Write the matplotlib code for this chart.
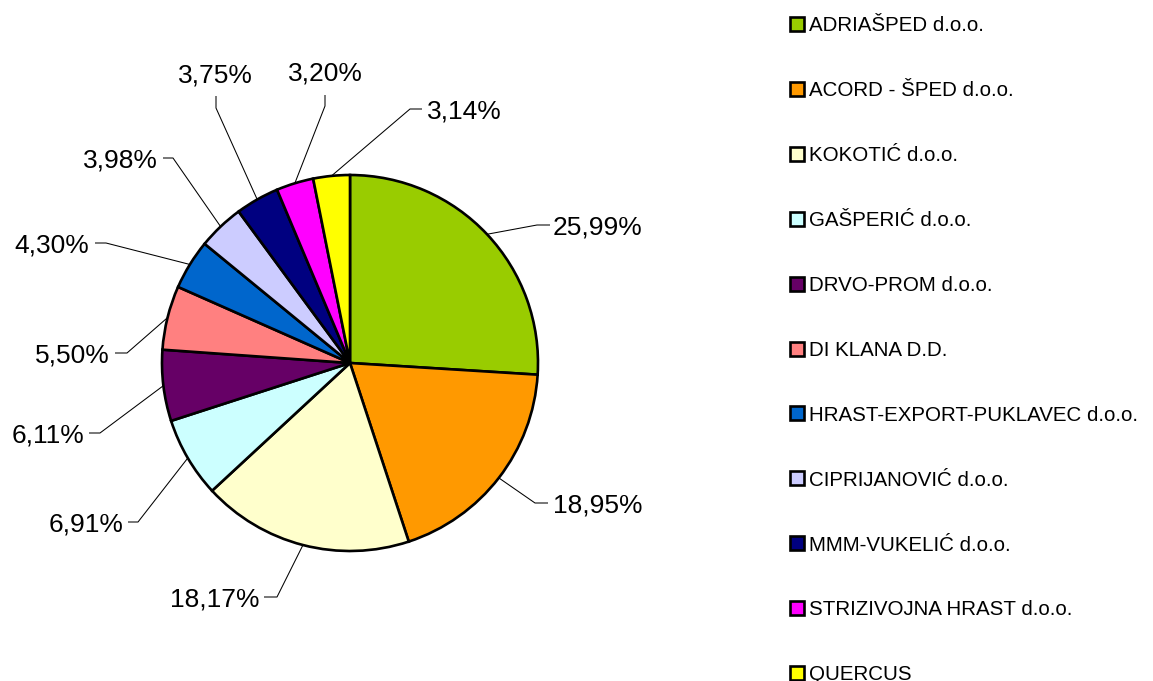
import matplotlib
matplotlib.use("Agg")
import matplotlib.pyplot as plt
import numpy as np
from matplotlib.patches import Rectangle

# ---- data ----
companies = ["ADRIAŠPED d.o.o.", "ACORD - ŠPED d.o.o.", "KOKOTIĆ d.o.o.", "GAŠPERIĆ d.o.o.",
             "DRVO-PROM d.o.o.", "DI KLANA D.D.", "HRAST-EXPORT-PUKLAVEC d.o.o.",
             "CIPRIJANOVIĆ d.o.o.", "MMM-VUKELIĆ d.o.o.", "STRIZIVOJNA HRAST d.o.o.", "QUERCUS"]
shares = [25.99, 18.95, 18.17, 6.91, 6.11, 5.50, 4.30, 3.98, 3.75, 3.20, 3.14]
colors = ["#99CC00", "#FF9900", "#FFFFCC", "#CCFFFF", "#660066", "#FF8080",
          "#0066CC", "#CCCCFF", "#000080", "#FF00FF", "#FFFF00"]

# ---- layout (pixel coords, y downward) ----
W, H = 1153, 681
CX, CY, R = 350, 363, 188
# (elbow point, stub end, text x, text center y, ha)
label_layout = [
    ((537, 225), (550, 225), 553, 225, "left"),
    ((535, 503), (548, 503), 553, 503, "left"),
    ((277, 597), (264, 597), 259, 597, "right"),
    ((138, 522), (128, 522), 123, 522, "right"),
    ((100, 433), (89, 433), 84, 433, "right"),
    ((127, 353), (115, 353), 110, 353, "right"),
    ((106, 243), (95, 243), 89, 243, "right"),
    ((173, 158), (163, 158), 158, 158, "right"),
    ((216, 108), (216, 96), 215, 73, "center"),
    ((325, 106), (325, 95), 325, 71, "center"),
    ((410, 109), (422, 109), 427, 109, "left"),
]

def Y(y):
    return H - y

plt.rcParams['font.family'] = ['Liberation Sans', 'DejaVu Sans']

fig = plt.figure(figsize=(W / 100, H / 100), dpi=100)
ax = fig.add_axes([0, 0, 1, 1])

wedges, _ = ax.pie(shares, colors=colors, startangle=90, counterclock=False,
                   center=(CX, Y(CY)), radius=R,
                   wedgeprops=dict(edgecolor="black", linewidth=1.9))

ax.set_xlim(0, W)
ax.set_ylim(0, H)
ax.set_aspect('auto')
ax.axis('off')

pct_fs = 19
digit_h = pct_fs * 100 / 72 * 0.716
for w, val, (elb, stub, tx, ty, ha) in zip(wedges, shares, label_layout):
    ang = np.deg2rad((w.theta1 + w.theta2) / 2)
    px = CX + R * np.cos(ang)
    py = Y(CY) + R * np.sin(ang)
    ax.plot([px, elb[0], stub[0]], [py, Y(elb[1]), Y(stub[1])],
            color="black", linewidth=0.75, solid_capstyle="butt", zorder=0.5)
    ax.text(tx, Y(ty + digit_h / 2), f"{val:.2f}%".replace(".", ","),
            fontsize=pct_fs, ha=ha, va="baseline", color="black")

# legend
leg_fs = 14.8
cap_h = leg_fs * 100 / 72 * 0.716
y0, dy = 24, 64.9
for i, (name, c) in enumerate(zip(companies, colors)):
    yc = y0 + i * dy
    ax.add_patch(Rectangle((790, Y(yc + 7)), 14, 14, facecolor=c,
                           edgecolor="black", linewidth=1.9, clip_on=False))
    ax.text(809, Y(yc + cap_h / 2), name, fontsize=leg_fs, ha="left",
            va="baseline", color="black")

fig.savefig("out.png", dpi=100)
